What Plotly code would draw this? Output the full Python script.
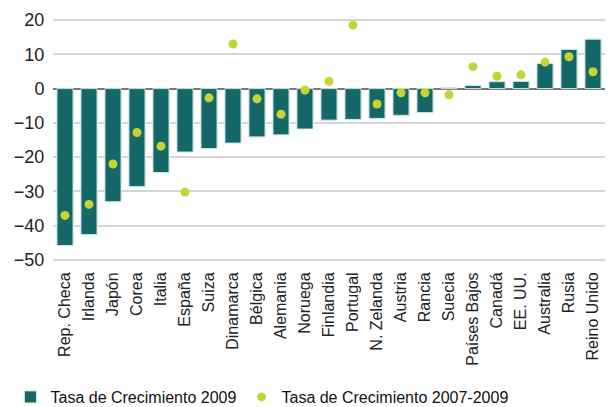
import plotly.graph_objects as go

paises = ["Rep. Checa", "Irlanda", "Japón", "Corea", "Italia", "España", "Suiza",
          "Dinamarca", "Bélgica", "Alemania", "Noruega", "Finlandia", "Portugal",
          "N. Zelanda", "Austria", "Rancia", "Suecia", "Países Bajos", "Canadá",
          "EE. UU.", "Australia", "Rusia", "Reino Unido"]

tasa_2009 = [-45.8, -42.6, -33.0, -28.6, -24.5, -18.5, -17.5, -15.9, -14.1, -13.5,
             -11.8, -9.2, -9.0, -8.7, -7.8, -7.0, 0.3, 0.9, 2.0, 2.1, 7.3, 11.4, 14.4]

tasa_2007_2009 = [-37.0, -33.8, -22.0, -12.8, -16.8, -30.2, -2.7, 13.0, -3.0, -7.5,
                  -0.4, 2.1, 18.5, -4.5, -1.2, -1.2, -1.8, 6.4, 3.6, 4.0, 7.7, 9.3, 4.9]

y_ticks = [20, 10, 0, -10, -20, -30, -40, -50]

fig = go.Figure()

fig.add_trace(go.Bar(
    x=paises, y=tasa_2009,
    name="Tasa de Crecimiento 2009",
    marker=dict(color="#156868", line=dict(color="#cfe3e2", width=1)),
))

fig.add_trace(go.Scatter(
    x=paises, y=tasa_2007_2009,
    mode="markers",
    name="Tasa de Crecimiento 2007-2009",
    marker=dict(color="#c4d434", size=9),
))

fig.update_xaxes(
    range=[-0.5, len(paises) - 0.5],
    tickangle=-90,
    tickfont=dict(size=16, color="#222"),
    showgrid=False,
    ticks="outside",
    ticklen=4,
    tickcolor="white",
    automargin=False,
)
fig.update_yaxes(
    range=[-50.3, 20.3],
    tickvals=y_ticks,
    tickfont=dict(size=18, color="#222"),
    gridcolor="#d3d6d9",
    gridwidth=2,
    zeroline=True,
    zerolinecolor="#777",
    zerolinewidth=1.5,
    ticklen=4,
    ticks="outside",
    tickcolor="white",
    automargin=False,
)
fig.update_layout(
    width=613, height=407,
    bargap=0.33,
    font=dict(family="Liberation Sans, Arial", color="#222"),
    plot_bgcolor="white",
    paper_bgcolor="white",
    margin=dict(l=45, r=16, t=11, b=154, autoexpand=False),
    showlegend=True,
    legend=dict(
        orientation="h",
        x=-0.077, y=-0.562,
        xanchor="left", yanchor="middle",
        font=dict(size=16, color="#111"),
        itemwidth=30,
        tracegroupgap=0,
    ),
)

fig.write_html("out.html")
